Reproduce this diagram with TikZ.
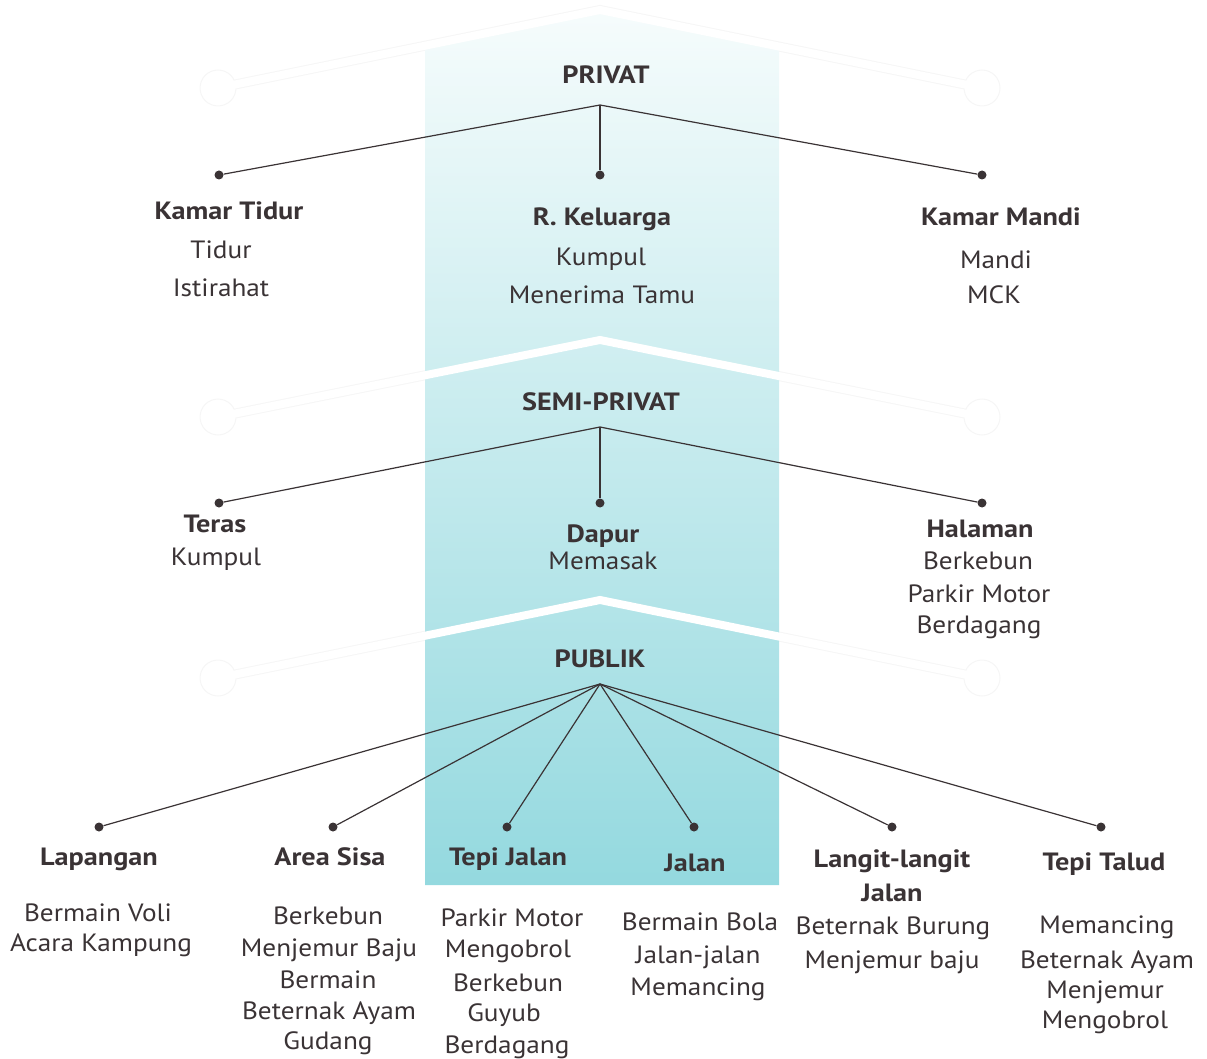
\documentclass[tikz,border=0pt]{standalone}
\usepackage{fontspec}
\setmainfont{PT Sans}[FakeStretch=1.09, BoldFeatures={FakeStretch=1.13}]
\definecolor{ink}{HTML}{3A3335}
\definecolor{bandtop}{HTML}{F6FCFC}
\definecolor{bandbot}{HTML}{94D9DF}
\definecolor{ghost}{HTML}{F6F6F6}
\tikzset{
  lbl/.style={anchor=base, text=ink, inner sep=0pt, font=\fontsize{25}{30}\selectfont},
  hd/.style={lbl, font=\fontsize{25}{30}\selectfont\bfseries},
  dot/.style={circle, fill=ink, inner sep=0pt, minimum size=9pt},
  conn/.style={draw=ink, line width=1.2pt},
  roofghost/.style={draw=ghost, line width=10pt, line join=miter},
  roofwhite/.style={draw=white, line width=8pt, line join=miter},
  knob/.style={draw=ghost, fill=white, line width=1pt}
}
\begin{document}
\begin{tikzpicture}[x=1pt,y=-1pt]
\useasboundingbox (0,0) rectangle (1207,1059);

% faint roof outlines and end knobs
\foreach \ay/\ey in {10/88, 340/417, 600/678}{
  \draw[roofghost] (218,\ey) -- (600,\ay) -- (982,\ey);
  \draw[knob] (218,\ey) circle (18);
  \draw[knob] (982,\ey) circle (18);
}

% central band with vertical gradient
\shade[top color=bandtop, bottom color=bandbot]
  (425,46) -- (600,10) -- (779,46.5) -- (779,885) -- (425,885) -- cycle;

% white roof strokes on top
\foreach \ay/\ey in {10/88, 340/417, 600/678}{
  \draw[roofwhite] (218,\ey) -- (600,\ay) -- (982,\ey);
}

% ---------- PRIVAT ----------
\node[hd] (privat) at (606,84) {PRIVAT};
\coordinate (jp) at (600,105);
\node[dot] (p1) at (219,175) {};
\node[dot] (p2) at (600,175) {};
\node[dot] (p3) at (982,175) {};
\draw[conn] (jp) -- (p1);
\draw[conn] (jp) -- (p2);
\draw[conn] (jp) -- (p3);

\node[hd]  (kt)  at (229,220) {Kamar Tidur};
\node[lbl] (kt1) at (221,259) {Tidur};
\node[lbl] (kt2) at (221,296) {Istirahat};

\node[hd]  (rk)  at (602,226) {R. Keluarga};
\node[lbl] (rk1) at (601,266) {Kumpul};
\node[lbl] (rk2) at (602,303) {Menerima Tamu};

\node[hd]  (km)  at (1001,226) {Kamar Mandi};
\node[lbl] (km1) at (996,269) {Mandi};
\node[lbl] (km2) at (994,303) {MCK};

% ---------- SEMI-PRIVAT ----------
\node[hd] (semi) at (601,410) {SEMI-PRIVAT};
\coordinate (js) at (600,427);
\node[dot] (s1) at (219,503) {};
\node[dot] (s2) at (600,503) {};
\node[dot] (s3) at (982,503) {};
\draw[conn] (js) -- (s1);
\draw[conn] (js) -- (s2);
\draw[conn] (js) -- (s3);

\node[hd]  (te)  at (215,532) {Teras};
\node[lbl] (te1) at (216,565) {Kumpul};

\node[hd]  (da)  at (603,542) {Dapur};
\node[lbl] (da1) at (603,569) {Memasak};

\node[hd]  (ha)  at (980,537) {Halaman};
\node[lbl] (ha1) at (978,569) {Berkebun};
\node[lbl] (ha2) at (979,602) {Parkir Motor};
\node[lbl] (ha3) at (979,633) {Berdagang};

% ---------- PUBLIK ----------
\node[hd] (publik) at (600,667) {PUBLIK};
\coordinate (ju) at (600,684);
\node[dot] (u1) at (99,827) {};
\node[dot] (u2) at (333,827) {};
\node[dot] (u3) at (507,827) {};
\node[dot] (u4) at (694,827) {};
\node[dot] (u5) at (892,827) {};
\node[dot] (u6) at (1101,827) {};
\foreach \n in {u1,u2,u3,u4,u5,u6}{\draw[conn] (ju) -- (\n);}

\node[hd]  (la)  at (99,865) {Lapangan};
\node[lbl] (la1) at (98,921) {Bermain Voli};
\node[lbl] (la2) at (101,951) {Acara Kampung};

\node[hd]  (as)  at (330,865) {Area Sisa};
\node[lbl] (as1) at (328,924) {Berkebun};
\node[lbl] (as2) at (329,956) {Menjemur Baju};
\node[lbl] (as3) at (328,988) {Bermain};
\node[lbl] (as4) at (329,1019) {Beternak Ayam};
\node[lbl] (as5) at (328,1049) {Gudang};

\node[hd]  (tj)  at (508,865) {Tepi Jalan};
\node[lbl] (tj1) at (512,926) {Parkir Motor};
\node[lbl] (tj2) at (508,957) {Mengobrol};
\node[lbl] (tj3) at (508,991) {Berkebun};
\node[lbl] (tj4) at (504,1021) {Guyub};
\node[lbl] (tj5) at (507,1053) {Berdagang};

\node[hd]  (jl)  at (695,871) {Jalan};
\node[lbl] (jl1) at (700,930) {Bermain Bola};
\node[lbl] (jl2) at (698,963) {Jalan-jalan};
\node[lbl] (jl3) at (698,995) {Memancing};

\node[hd]  (ll)  at (892,867) {Langit-langit};
\node[hd]  (llb) at (892,901) {Jalan};
\node[lbl] (ll1) at (893,934) {Beternak Burung};
\node[lbl] (ll2) at (892,968) {Menjemur baju};

\node[hd]  (tt)  at (1104,870) {Tepi Talud};
\node[lbl] (tt1) at (1107,933) {Memancing};
\node[lbl] (tt2) at (1107,968) {Beternak Ayam};
\node[lbl] (tt3) at (1105,998) {Menjemur};
\node[lbl] (tt4) at (1105,1028) {Mengobrol};
\end{tikzpicture}
\end{document}
